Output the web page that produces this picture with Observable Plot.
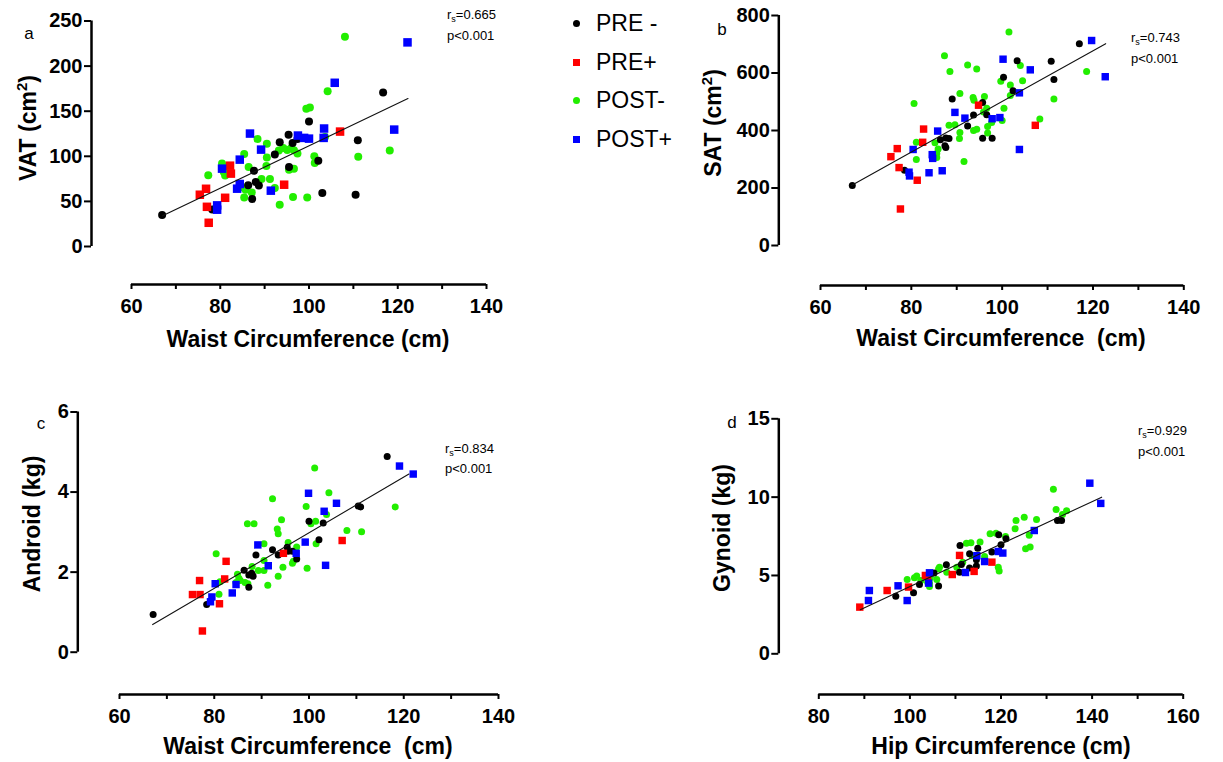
<!DOCTYPE html>
<html>
<head>
<meta charset="utf-8">
<script src="https://cdn.jsdelivr.net/npm/d3@7"></script>
<script src="https://cdn.jsdelivr.net/npm/@observablehq/plot@0.6"></script>
<style>
  html, body { margin: 0; padding: 0; background: #fff; }
  #root { position: relative; width: 1223px; height: 762px; overflow: hidden; font-family: "Liberation Sans", Arial, sans-serif; color: #000; }
  #root svg { position: absolute; overflow: visible; }
  .lbl { position: absolute; white-space: pre; line-height: 1; }
  .title { font-weight: bold; font-size: 23px; }
  .note { font-size: 13px; }
  .note sub { font-size: 9px; vertical-align: -3px; }
  .title sup { font-size: 15px; vertical-align: 9px; }
  .letter { font-size: 17px; }
  .leg { font-size: 23px; }
</style>
</head>
<body>
<div id="root"></div>
<script>
// ---------------- data ----------------
const groups = ["PRE -", "PRE+", "POST-", "POST+"];
const groupColors = ["#000000", "#ff0000", "#22ee00", "#0000ff"];
const groupSymbols = ["circle", "square", "circle", "square"];

// Panel a: VAT (cm2) vs waist circumference (cm)
const vatPreNeg = [[66.9,35],[78.2,41],[87.6,84],[86.3,68],[88.0,71.5],[88.7,67.5],[87.2,52.6],[92.3,102],[93.4,115.6],[95.4,124],[96.3,114.8],[97.4,119.3],[95.5,88],[100.0,138.5],[102.1,95],[103.0,59.3],[110.5,57.4],[111.0,117.8],[116.7,170.8]];
const vatPrePos = [[75.4,57.4],[76.8,64],[77.0,44],[77.4,26.3],[81.1,54],[82.2,89.6],[82.4,80.8],[94.4,68.5],[107.0,127.4]];
const vatPostNeg = [[104.2,172],[99.4,152.6],[100.2,154],[88.4,119.3],[90.5,114],[85.4,102.6],[80.4,92],[77.3,79],[80.8,82.6],[81.1,78.6],[86.4,88],[90.5,98.6],[90.4,89.3],[93.2,106.3],[94.2,109.3],[95.1,107],[96.0,109.3],[96.6,106.7],[97.4,103],[95.5,85.2],[96.6,86.3],[89.3,74.8],[91.2,74.8],[92.3,64.8],[85.0,65.6],[85.7,63],[87.1,60],[85.4,54.4],[93.4,46.3],[96.4,54.8],[99.6,54.4],[101.2,100],[101.3,92.6],[103.6,121.4],[111.1,99.6],[118.2,106.3],[108.1,232.6]];
const vatPostPos = [[79.3,45.6],[79.3,40.8],[80.4,86.3],[84.4,96.3],[84.4,69.3],[83.8,64.1],[86.7,125.2],[89.2,107.4],[91.4,61.9],[97.5,123],[98.9,120.4],[100.0,119.6],[103.4,130.8],[103.3,120.4],[105.8,181.5],[119.2,129.6],[122.2,226.3]];
const vatFit = [[67,34],[122.3,164]];

// Panel b: SAT (cm2) vs waist circumference (cm)
const satPreNeg = [[67.0,209],[78.5,262],[89.0,510],[86.4,368],[87.6,374],[88.3,372],[87.4,347],[87.6,341],[92.4,416],[93.7,454],[95.7,497],[96.6,455],[95.7,373],[97.8,373],[100.3,585],[103.3,643],[102.4,538],[110.8,641],[111.4,577],[117.0,702]];
const satPrePos = [[94.8,488],[82.7,405],[82.5,359],[76.9,337],[75.5,309],[77.3,271],[81.3,227],[77.6,127],[107.3,418]];
const satPostNeg = [[101.5,743],[87.3,660],[88.5,605],[92.4,628],[94.4,614],[104.0,626],[104.5,573],[99.7,571],[101.8,558],[101.8,522],[118.6,605],[111.4,510],[108.3,440],[80.6,494],[90.7,529],[93.6,515],[93.8,505],[96.1,518],[96.6,477],[95.9,464],[100.4,477],[97.7,428],[100,435],[96.8,414],[96.8,391],[94.4,404],[93.7,400],[90.7,393],[90.6,372],[88.3,418],[89.6,420],[85.2,357],[85.9,336],[85.6,320],[85.6,306],[81.1,359],[81.1,299],[91.6,292]];
const satPostPos = [[119.7,713],[122.7,587],[100.2,648],[106.2,611],[103.8,531],[89.6,463],[91.8,443],[97.8,441],[99.5,445],[85.8,398],[80.4,334],[84.6,316],[84.7,303],[79.5,255],[79.6,242],[83.9,253],[86.8,260],[103.8,334]];
const satFit = [[66.8,209],[122.8,702]];

// Panel c: Android (kg) vs waist circumference (cm)
const andPreNeg = [[67.1,0.94],[78.4,1.19],[86.3,2.05],[87.3,1.62],[87.3,1.93],[88.2,1.9],[87.9,1.97],[88.8,2.43],[92.3,2.56],[93.5,2.43],[95.4,2.62],[95.6,2.52],[96.5,2.52],[97.4,2.33],[100,3.27],[102.1,2.81],[103.0,3.23],[110.4,3.65],[110.9,3.63],[116.5,4.89]];
const andPrePos = [[75.4,1.44],[77.0,1.44],[76.9,1.79],[77.5,0.53],[81.1,1.21],[82.2,1.83],[82.5,2.27],[94.6,2.47],[107.0,2.79]];
const andPostNeg = [[80.4,2.46],[81.0,1.45],[81.2,1.76],[84.9,1.95],[85.2,1.85],[84.6,1.74],[85.5,1.79],[86.5,1.74],[87.1,1.71],[87.0,3.21],[88.4,3.21],[88.0,2.14],[89.3,2.04],[90.5,2.04],[90.5,2.71],[90.5,2.29],[91.3,1.67],[92.3,3.83],[93.3,3.08],[93.5,2.96],[93.5,1.90],[94.2,3.31],[94.5,2.12],[95.6,2.74],[96.5,2.22],[96.7,2.27],[97.4,2.63],[99.4,3.64],[99.6,2.10],[101.2,4.60],[101.4,3.27],[100.4,3.21],[101.5,2.71],[103.7,3.44],[104.2,3.98],[108.0,3.04],[111.1,3.01],[118.2,3.63]];
const andPostPos = [[79.2,1.26],[79.5,1.38],[80.2,1.71],[83.8,1.48],[84.6,1.69],[89.2,2.68],[91.4,2.16],[97.3,2.47],[99.2,2.75],[99.9,3.97],[103.2,3.52],[103.5,2.17],[105.8,3.72],[119.1,4.65],[122.0,4.45]];
const andFit = [[67.0,0.69],[121.1,4.45]];

// Panel d: Gynoid (kg) vs hip circumference (cm)
const gynPreNeg = [[96.9,3.68],[100.8,3.89],[102.1,4.43],[105.3,5.15],[106.3,4.32],[108.0,5.68],[110.9,5.21],[111.0,6.91],[111.3,5.70],[113.1,6.38],[113.1,5.47],[114.6,6.0],[114.6,5.6],[114.9,6.74],[118.0,6.49],[119.5,7.60],[120.0,6.96],[121.1,7.34],[132.4,8.51],[133.3,8.51]];
const gynPrePos = [[89.0,2.98],[95.0,4.04],[99.7,4.26],[103.4,5.0],[103.9,4.94],[109.3,5.06],[110.9,6.28],[114.1,5.26],[118.0,5.85]];
const gynPostNeg = [[99.4,4.74],[101.0,4.85],[101.5,4.96],[102.4,4.68],[104.3,4.51],[104.3,4.30],[103.9,4.57],[104.5,4.85],[105.9,4.74],[106.3,5.43],[106.5,5.53],[108.1,5.21],[110.3,5.53],[111.6,5.85],[112.4,7.06],[113.4,7.09],[113.6,6.28],[115.4,7.13],[116.4,6.21],[117.6,7.66],[118.9,7.70],[119.4,5.53],[119.6,5.28],[121.0,7.49],[123.1,7.98],[123.3,8.51],[125.1,8.72],[125.4,6.70],[126.4,6.81],[126.2,7.57],[127.8,8.57],[131.5,10.51],[132.1,9.21],[133.5,8.89],[134.4,9.13]];
const gynPostPos = [[91.1,4.04],[90.9,3.40],[97.4,4.34],[99.4,3.40],[104.3,5.17],[104.1,4.51],[112.2,5.19],[114.7,6.26],[116.4,5.89],[119.4,6.53],[120.4,6.43],[127.3,7.87],[139.5,10.89],[141.9,9.60]];
const gynFit = [[89.1,2.81],[142.1,10.0]];

// axis ticks
const waistTicks = [60, 70, 80, 90, 100, 110, 120, 130, 140];
const hipTicks = [80, 90, 100, 110, 120, 130, 140, 150, 160];
const vatTicks = [0, 50, 100, 150, 200, 250];
const satTicks = [0, 200, 400, 600, 800];
const andTicks = [0, 2, 4, 6];
const gynTicks = [0, 5, 10, 15];

// ---------------- drawing ----------------
const root = document.getElementById("root");
const toObj = (arr) => arr.map(([x, y]) => ({x, y}));

function panel(p) {
  const marginLeft = p.yAxisX - p.left;
  const marginTop = p.yPx[1] - p.top;
  const frameBottom = p.xAxisY - p.top;
  const marginBottom = p.height - frameBottom;
  const marginRight = p.width - (p.xPx[1] - p.left);
  const insetLeft = p.xPx[0] - p.yAxisX;
  const insetBottom = p.xAxisY - p.yPx[0];
  const drawOrder = [2, 0, 1, 3];
  const dotMarks = drawOrder.map(g => Plot.dot(toObj(p.series[g]), {
    x: "x", y: "y", fill: groupColors[g], stroke: "none",
    symbol: groupSymbols[g], r: groupSymbols[g] === "square" ? p.sq : p.r
  }));
  const svg = Plot.plot({
    width: p.width, height: p.height,
    marginLeft, marginTop, marginBottom, marginRight,
    style: "font-family: 'Liberation Sans', Arial, sans-serif; font-weight: bold; font-size: 20px; overflow: visible; background: transparent; max-width: none;",
    x: {domain: p.xDomain, insetLeft, insetRight: 0},
    y: {domain: p.yDomain, insetBottom, insetTop: 0},
    marks: [
      Plot.ruleY([p.yDomain[0]], {x1: p.xDomain[0], x2: p.xDomain[1], dy: insetBottom, strokeWidth: 2.5, stroke: "#000"}),
      Plot.ruleX([p.xDomain[0]], {y1: p.yDomain[0], y2: p.yDomain[1], dx: -insetLeft, strokeWidth: 2.5, stroke: "#000"}),
      Plot.axisX(p.xTicks, {tickSize: 5, tickPadding: 9, strokeWidth: 2, label: null,
        tickFormat: d => (d % 20 === 0 ? String(d) : ""), fontSize: 20, fontWeight: "bold"}),
      Plot.axisY(p.yTicks, {tickSize: 7, tickPadding: 2, strokeWidth: 2, label: null,
        tickFormat: d => String(d), fontSize: 20, fontWeight: "bold"}),
      ...dotMarks,
      Plot.line(toObj(p.fit), {x: "x", y: "y", stroke: "#111", strokeWidth: 1.1})
    ]
  });
  svg.style.left = p.left + "px";
  svg.style.top = p.top + "px";
  root.appendChild(svg);
}

panel({left: 0, top: 0, width: 540, height: 330, yAxisX: 91, xAxisY: 284, xPx: [131, 486], yPx: [246, 20.5],
  xDomain: [60, 140], yDomain: [0, 250], xTicks: waistTicks, yTicks: vatTicks,
  series: [vatPreNeg, vatPrePos, vatPostNeg, vatPostPos], fit: vatFit, r: 4, sq: 4.8});
panel({left: 690, top: 0, width: 533, height: 330, yAxisX: 778.3, xAxisY: 285, xPx: [820, 1183.3], yPx: [245, 15],
  xDomain: [60, 140], yDomain: [0, 800], xTicks: waistTicks, yTicks: satTicks,
  series: [satPreNeg, satPrePos, satPostNeg, satPostPos], fit: satFit, r: 3.5, sq: 4.2});
panel({left: 0, top: 390, width: 540, height: 340, yAxisX: 77.3, xAxisY: 694, xPx: [119, 498], yPx: [651.7, 411.5],
  xDomain: [60, 140], yDomain: [0, 6], xTicks: waistTicks, yTicks: andTicks,
  series: [andPreNeg, andPrePos, andPostNeg, andPostPos], fit: andFit, r: 3.5, sq: 4.2});
panel({left: 690, top: 390, width: 533, height: 340, yAxisX: 778.3, xAxisY: 694, xPx: [818.3, 1182.7], yPx: [653.3, 418.3],
  xDomain: [80, 160], yDomain: [0, 15], xTicks: hipTicks, yTicks: gynTicks,
  series: [gynPreNeg, gynPrePos, gynPostNeg, gynPostPos], fit: gynFit, r: 3.5, sq: 4.2});

// ---------------- text ----------------
function label(html, x, y, cls, mode) {
  const d = document.createElement("div");
  d.className = "lbl " + cls;
  d.innerHTML = html;
  d.style.left = x + "px";
  d.style.top = y + "px";
  if (mode === "rot") d.style.transform = "translate(-50%,-50%) rotate(-90deg)";
  else if (mode === "left") d.style.transform = "translate(0,-50%)";
  else d.style.transform = "translate(-50%,-50%)";
  root.appendChild(d);
}

// panel letters
label("a", 29, 33, "letter");
label("b", 722, 29, "letter");
label("c", 41, 423, "letter");
label("d", 732, 422, "letter");

// axis titles
label("VAT (cm<sup>2</sup>)", 27, 128, "title", "rot");
label("Waist Circumference (cm)", 308, 339, "title");
label("SAT (cm<sup>2</sup>)", 712, 123, "title", "rot");
label("Waist Circumference  (cm)", 1001, 338, "title");
label("Android (kg)", 32, 524, "title", "rot");
label("Waist Circumference  (cm)", 308, 746, "title");
label("Gynoid (kg)", 722, 528, "title", "rot");
label("Hip Circumference (cm)", 1001, 746, "title");

// statistics
const stats = [["0.665", 447, 16, 35], ["0.743", 1131, 39, 58], ["0.834", 445, 450, 468], ["0.929", 1138, 432, 451]];
stats.forEach(([r, x, y1, y2]) => {
  label("r<sub>s</sub>=" + r, x, y1, "note", "left");
  label("p&lt;0.001", x, y2, "note", "left");
});

// legend
const legendY = [23, 62, 100, 139];
groups.forEach((g, i) => {
  const m = document.createElement("div");
  const s = 7;
  m.style.cssText = `position:absolute;left:${576 - s/2}px;top:${legendY[i] - s/2}px;width:${s}px;height:${s}px;background:${groupColors[i]};border-radius:${groupSymbols[i] === "circle" ? "50%" : "0"};`;
  root.appendChild(m);
  label(g, 596, legendY[i], "leg", "left");
});
</script>
</body>
</html>
